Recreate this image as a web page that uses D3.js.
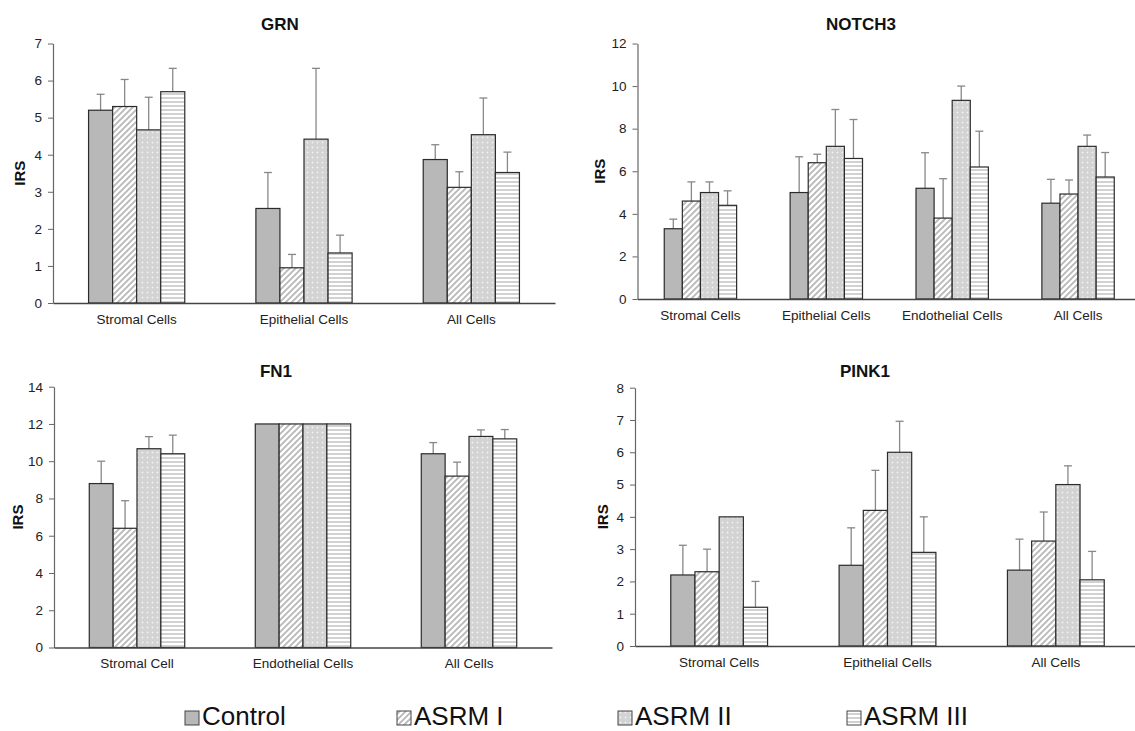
<!DOCTYPE html>
<html>
<head>
<meta charset="utf-8">
<script src="https://cdn.jsdelivr.net/npm/d3@7"></script>
<style>
  body { margin: 0; background: #fff; }
  svg { display: block; font-family: "Liberation Sans", Arial, sans-serif; }
</style>
</head>
<body>
<svg id="svg" width="1135" height="731"></svg>
<script>
// series + data (mean and error)
var seriesNames = ["Control", "ASRM I", "ASRM II", "ASRM III"];

var grnCats = ["Stromal Cells", "Epithelial Cells", "All Cells"];
var grnMeans = [[5.2, 2.55, 3.87], [5.3, 0.95, 3.12], [4.67, 4.42, 4.54], [5.7, 1.35, 3.52]];
var grnErrs  = [[0.43, 0.97, 0.40], [0.73, 0.36, 0.42], [0.88, 1.91, 0.99], [0.63, 0.48, 0.55]];

var notchCats = ["Stromal Cells", "Epithelial Cells", "Endothelial Cells", "All Cells"];
var notchMeans = [[3.3, 5.0, 5.2, 4.5], [4.6, 6.4, 3.8, 4.93], [5.0, 7.17, 9.33, 7.17], [4.4, 6.6, 6.2, 5.73]];
var notchErrs  = [[0.45, 1.68, 1.67, 1.12], [0.9, 0.4, 1.85, 0.66], [0.5, 1.73, 0.67, 0.53], [0.68, 1.83, 1.68, 1.15]];

var fnCats = ["Stromal Cell", "Endothelial Cells", "All Cells"];
var fnMeans = [[8.8, 12, 10.4], [6.4, 12, 9.2], [10.67, 12, 11.33], [10.4, 12, 11.2]];
var fnErrs  = [[1.2, 0, 0.6], [1.48, 0, 0.75], [0.65, 0, 0.35], [1.0, 0, 0.5]];

var pinkCats = ["Stromal Cells", "Epithelial Cells", "All Cells"];
var pinkMeans = [[2.2, 2.5, 2.35], [2.3, 4.2, 3.25], [4.0, 6.0, 5.0], [1.2, 2.9, 2.05]];
var pinkErrs  = [[0.92, 1.16, 0.96], [0.7, 1.24, 0.9], [0, 0.96, 0.58], [0.8, 1.1, 0.88]];

var svg = d3.select("#svg");
svg.append("rect").attr("width", 1135).attr("height", 731).attr("fill", "#fff");

// fill patterns
var defs = svg.append("defs");
var p1 = defs.append("pattern").attr("id", "pat1").attr("patternUnits", "userSpaceOnUse")
  .attr("width", 6).attr("height", 6);
p1.append("rect").attr("width", 6).attr("height", 6).attr("fill", "#fff");
p1.append("path").attr("d", "M-1,1 l2,-2 M0,6 l6,-6 M5,7 l2,-2")
  .attr("stroke", "#b9b9b9").attr("stroke-width", 1.9);

var p2 = defs.append("pattern").attr("id", "pat2").attr("patternUnits", "userSpaceOnUse")
  .attr("width", 5).attr("height", 5);
p2.append("rect").attr("width", 5).attr("height", 5).attr("fill", "#d3d3d3");
p2.append("path").attr("d", "M1.5,2.5 h2 M2.5,1.5 v2").attr("stroke", "#f2f2f2").attr("stroke-width", 0.8);

var p3 = defs.append("pattern").attr("id", "pat3").attr("patternUnits", "userSpaceOnUse")
  .attr("width", 4).attr("height", 4);
p3.append("rect").attr("width", 4).attr("height", 4).attr("fill", "#fff");
p3.append("rect").attr("y", 1.2).attr("width", 4).attr("height", 1.6).attr("fill", "#c6c6c6");

var fills = ["#b8b8b8", "url(#pat1)", "url(#pat2)", "url(#pat3)"];

var panels = [
  {title: "GRN", cats: grnCats, means: grnMeans, errs: grnErrs, yMax: 7, step: 1,
   x0: 53, x1: 555, y0: 303, y1: 43.5, tx: 280, ty: 30, irsX: 20},
  {title: "NOTCH3", cats: notchCats, means: notchMeans, errs: notchErrs, yMax: 12, step: 2,
   x0: 637.5, x1: 1141, y0: 299, y1: 43.5, tx: 861, ty: 30, irsX: 600},
  {title: "FN1", cats: fnCats, means: fnMeans, errs: fnErrs, yMax: 14, step: 2,
   x0: 54, x1: 552, y0: 647.5, y1: 386.7, tx: 276, ty: 377, irsX: 18},
  {title: "PINK1", cats: pinkCats, means: pinkMeans, errs: pinkErrs, yMax: 8, step: 1,
   x0: 635, x1: 1140, y0: 646, y1: 387.7, tx: 865, ty: 377, irsX: 603}
];

panels.forEach(function(p){
  var g = svg.append("g");
  var x = d3.scaleBand().domain(p.cats).range([p.x0, p.x1]).paddingInner(0.425).paddingOuter(0.2125);
  var xs = d3.scaleBand().domain(d3.range(seriesNames.length)).range([0, x.bandwidth()]);
  var y = d3.scaleLinear().domain([0, p.yMax]).range([p.y0, p.y1]);

  // y axis
  var ya = g.append("g").attr("transform", "translate(" + p.x0 + ",0)")
    .call(d3.axisLeft(y).tickValues(d3.range(0, p.yMax + 0.001, p.step)).tickFormat(d3.format("d"))
      .tickSize(5).tickSizeOuter(0).tickPadding(6));
  ya.select(".domain").attr("stroke", "#666").attr("stroke-width", 1.2);
  ya.selectAll(".tick line").attr("stroke", "#666");
  ya.selectAll("text").attr("font-size", 13.5).attr("fill", "#222").attr("font-family", "Liberation Sans, Arial, sans-serif");

  var rows = [];
  p.cats.forEach(function(c, ci){
    seriesNames.forEach(function(s, si){
      rows.push({c: c, si: si, v: p.means[si][ci], e: p.errs[si][ci]});
    });
  });

  // error bars
  var eb = g.selectAll(".err").data(rows.filter(function(d){ return d.e > 0; })).enter().append("g");
  eb.append("line")
    .attr("x1", function(d){ return x(d.c) + xs(d.si) + xs.bandwidth() / 2; })
    .attr("x2", function(d){ return x(d.c) + xs(d.si) + xs.bandwidth() / 2; })
    .attr("y1", function(d){ return y(d.v); })
    .attr("y2", function(d){ return y(d.v + d.e); })
    .attr("stroke", "#888").attr("stroke-width", 1.3);
  eb.append("line")
    .attr("x1", function(d){ return x(d.c) + xs(d.si) + xs.bandwidth() / 2 - 4; })
    .attr("x2", function(d){ return x(d.c) + xs(d.si) + xs.bandwidth() / 2 + 4; })
    .attr("y1", function(d){ return y(d.v + d.e); })
    .attr("y2", function(d){ return y(d.v + d.e); })
    .attr("stroke", "#888").attr("stroke-width", 1.3);

  // bars
  g.selectAll(".bar").data(rows).enter().append("rect")
    .attr("x", function(d){ return x(d.c) + xs(d.si); })
    .attr("y", function(d){ return y(d.v); })
    .attr("width", xs.bandwidth())
    .attr("height", function(d){ return p.y0 - y(d.v); })
    .attr("fill", function(d){ return fills[d.si]; })
    .attr("stroke", "#2b2b2b").attr("stroke-width", 1.2);

  // x axis
  var xa = g.append("g").attr("transform", "translate(0," + p.y0 + ")")
    .call(d3.axisBottom(x).tickSize(0).tickSizeOuter(0).tickPadding(11));
  xa.select(".domain").attr("stroke", "#444").attr("stroke-width", 1.5);
  xa.selectAll("text").attr("font-size", 13.5).attr("fill", "#222").attr("font-family", "Liberation Sans, Arial, sans-serif");

  g.append("text").attr("x", p.tx).attr("y", p.ty).attr("text-anchor", "middle")
    .attr("font-size", 17).attr("font-weight", "bold").attr("fill", "#111").text(p.title);

  g.append("text").attr("transform", "translate(" + p.irsX + "," + ((p.y0 + p.y1) / 2) + ") rotate(-90)")
    .attr("text-anchor", "middle").attr("dy", "0.35em")
    .attr("font-size", 15).attr("font-weight", "bold").attr("fill", "#111").text("IRS");
});

// legend
var legX = [185, 397, 618, 847];
var leg = svg.selectAll(".leg").data(seriesNames).enter().append("g")
  .attr("transform", function(d, i){ return "translate(" + legX[i] + ",0)"; });
leg.append("rect").attr("x", 0).attr("y", 711).attr("width", 14).attr("height", 14)
  .attr("fill", function(d, i){ return fills[i]; }).attr("stroke", "#444").attr("stroke-width", 1);
leg.append("text").attr("x", 17).attr("y", 725).attr("font-size", 26).attr("fill", "#111")
  .text(function(d){ return d; });
</script>
</body>
</html>
